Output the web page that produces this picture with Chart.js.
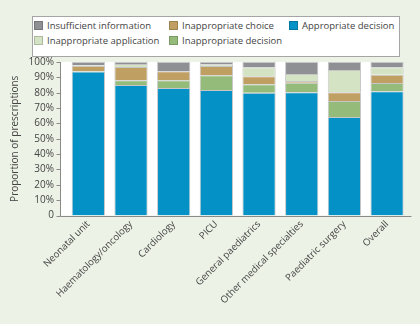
<!DOCTYPE html>
<html>
<head>
<meta charset="utf-8">
<title>Prescribing decisions by unit</title>
<script src="https://cdn.jsdelivr.net/npm/chart.js@4.4.1/dist/chart.umd.min.js"></script>
<style>
  html, body { margin: 0; padding: 0; background: #edf2e6; }
  #wrap { position: relative; width: 420px; height: 324px; overflow: hidden; }
  #legend {
    position: absolute; left: 32px; top: 16px; width: 366px; height: 39px;
    border: 1px solid #a5a5a5; background: #fff;
    font-family: "Open Sans", sans-serif; font-size: 9.5px; color: #444;
  }
  .item { position: absolute; height: 12px; display: flex; align-items: center; white-space: nowrap; }
  .swatch { width: 9px; height: 9px; margin-right: 4px; box-sizing: border-box; border: 1px solid rgba(0,0,0,0.18); }
</style>
</head>
<body>
<div id="wrap">
  <canvas id="chart" width="420" height="324"></canvas>
  <div id="legend"></div>
</div>
<script>
const categories = ['Neonatal unit', 'Haematology/oncology', 'Cardiology', 'PICU',
  'General paediatrics', 'Other medical specialties', 'Paediatric surgery', 'Overall'];

// % of prescriptions, stacked bottom to top
const appropriateDecision     = [93.8, 85.0, 83.1, 81.8, 80.0, 80.3, 64.2, 81.0];
const inappropriateDecision   = [0.3, 3.1, 5.0, 9.5, 5.5, 6.2, 10.4, 5.3];
const inappropriateChoice     = [3.4, 8.6, 5.8, 6.1, 5.2, 1.1, 5.7, 5.4];
const inappropriateApplication = [0.6, 2.0, 0.0, 1.1, 5.8, 4.6, 14.5, 4.9];
const insufficientInformation = [1.9, 1.3, 6.1, 1.5, 3.5, 7.8, 5.2, 3.4];

const yTickStep = 10;
const yMax = 100;

// legend is laid out as a 3-column grid, in this order
const legendOrder = ['Insufficient information', 'Inappropriate choice', 'Appropriate decision',
  'Inappropriate application', 'Inappropriate decision'];

const AXIS_X = 60.5;      // y axis line
const AXIS_END = 411.5;   // x axis line runs a bit past the last bar
const AXIS_COLOR = '#8a8a8a';

Chart.defaults.font.family = '"Open Sans", sans-serif';
Chart.defaults.color = '#444';

function makeSet(label, data, color) {
  return {
    label, data,
    backgroundColor: color,
    borderColor: 'rgba(0, 0, 0, 0.22)',
    borderWidth: { top: 1, left: 1, right: 1, bottom: 0 },
    borderSkipped: false,
    barPercentage: 0.78,
    categoryPercentage: 1.0
  };
}

// white plot background and the axis lines sit outside chartArea, so draw them here
const plotFrame = {
  id: 'plotFrame',
  beforeDatasetsDraw(chart) {
    const { ctx, scales: { y } } = chart;
    const bars = chart.getDatasetMeta(0).data;
    const last = bars[bars.length - 1];
    const right = last.x + last.width / 2;
    const top = y.getPixelForValue(yMax);
    const bottom = y.getPixelForValue(0);
    ctx.save();
    ctx.fillStyle = '#ffffff';
    ctx.fillRect(AXIS_X, top, right - AXIS_X, bottom - top);
    ctx.restore();
  },
  afterDatasetsDraw(chart) {
    const { ctx, scales: { y } } = chart;
    const top = y.getPixelForValue(yMax);
    const bottom = Math.round(y.getPixelForValue(0)) + 0.5;
    ctx.save();
    ctx.strokeStyle = AXIS_COLOR;
    ctx.lineWidth = 1;
    ctx.beginPath();
    ctx.moveTo(AXIS_X, top);
    ctx.lineTo(AXIS_X, bottom);
    ctx.lineTo(AXIS_END, bottom);
    for (let v = 0; v <= yMax; v += yTickStep) {
      const py = Math.round(y.getPixelForValue(v)) + 0.5;
      ctx.moveTo(AXIS_X - 4, py);
      ctx.lineTo(AXIS_X, py);
    }
    ctx.stroke();
    ctx.restore();
  }
};

const chart = new Chart(document.getElementById('chart'), {
  type: 'bar',
  data: {
    labels: categories,
    datasets: [
      makeSet('Appropriate decision', appropriateDecision, '#0391c6'),
      makeSet('Inappropriate decision', inappropriateDecision, '#95bb7a'),
      makeSet('Inappropriate choice', inappropriateChoice, '#c0a062'),
      makeSet('Inappropriate application', inappropriateApplication, '#d3e3c4'),
      makeSet('Insufficient information', insufficientInformation, '#8f9094')
    ]
  },
  options: {
    responsive: false,
    animation: false,
    layout: { padding: { top: 62, right: 11.6, bottom: 0, left: 0 } },
    plugins: {
      legend: { display: false },
      tooltip: { enabled: false }
    },
    scales: {
      x: {
        stacked: true,
        grid: { display: false, drawTicks: false },
        border: { display: false },
        ticks: {
          autoSkip: false,
          minRotation: 45,
          maxRotation: 45,
          padding: 3,
          font: { size: 9.6 }
        },
        afterFit(scale) { scale.height = 108.5; }
      },
      y: {
        stacked: true,
        min: 0,
        max: yMax,
        grid: { display: false, drawTicks: false },
        border: { display: false },
        ticks: {
          stepSize: yTickStep,
          padding: 13,
          font: { size: 10 },
          callback: v => v === 0 ? '0' : v + '%'
        },
        title: {
          display: true,
          text: 'Proportion of prescriptions',
          font: { size: 10 },
          padding: { top: 9, bottom: 0 }
        },
        afterFit(scale) { scale.width = 67; }
      }
    }
  },
  plugins: [plotFrame]
});

// html legend built from the chart's datasets
const legendEl = document.getElementById('legend');
const colLefts = [1, 136, 256];
const rowTops = [2, 17];
legendOrder.forEach((name, i) => {
  const ds = chart.data.datasets.find(d => d.label === name);
  const item = document.createElement('div');
  item.className = 'item';
  item.style.left = colLefts[i % 3] + 'px';
  item.style.top = rowTops[Math.floor(i / 3)] + 'px';
  const sw = document.createElement('span');
  sw.className = 'swatch';
  sw.style.background = ds.backgroundColor;
  item.appendChild(sw);
  item.appendChild(document.createTextNode(ds.label));
  legendEl.appendChild(item);
});
</script>
</body>
</html>
